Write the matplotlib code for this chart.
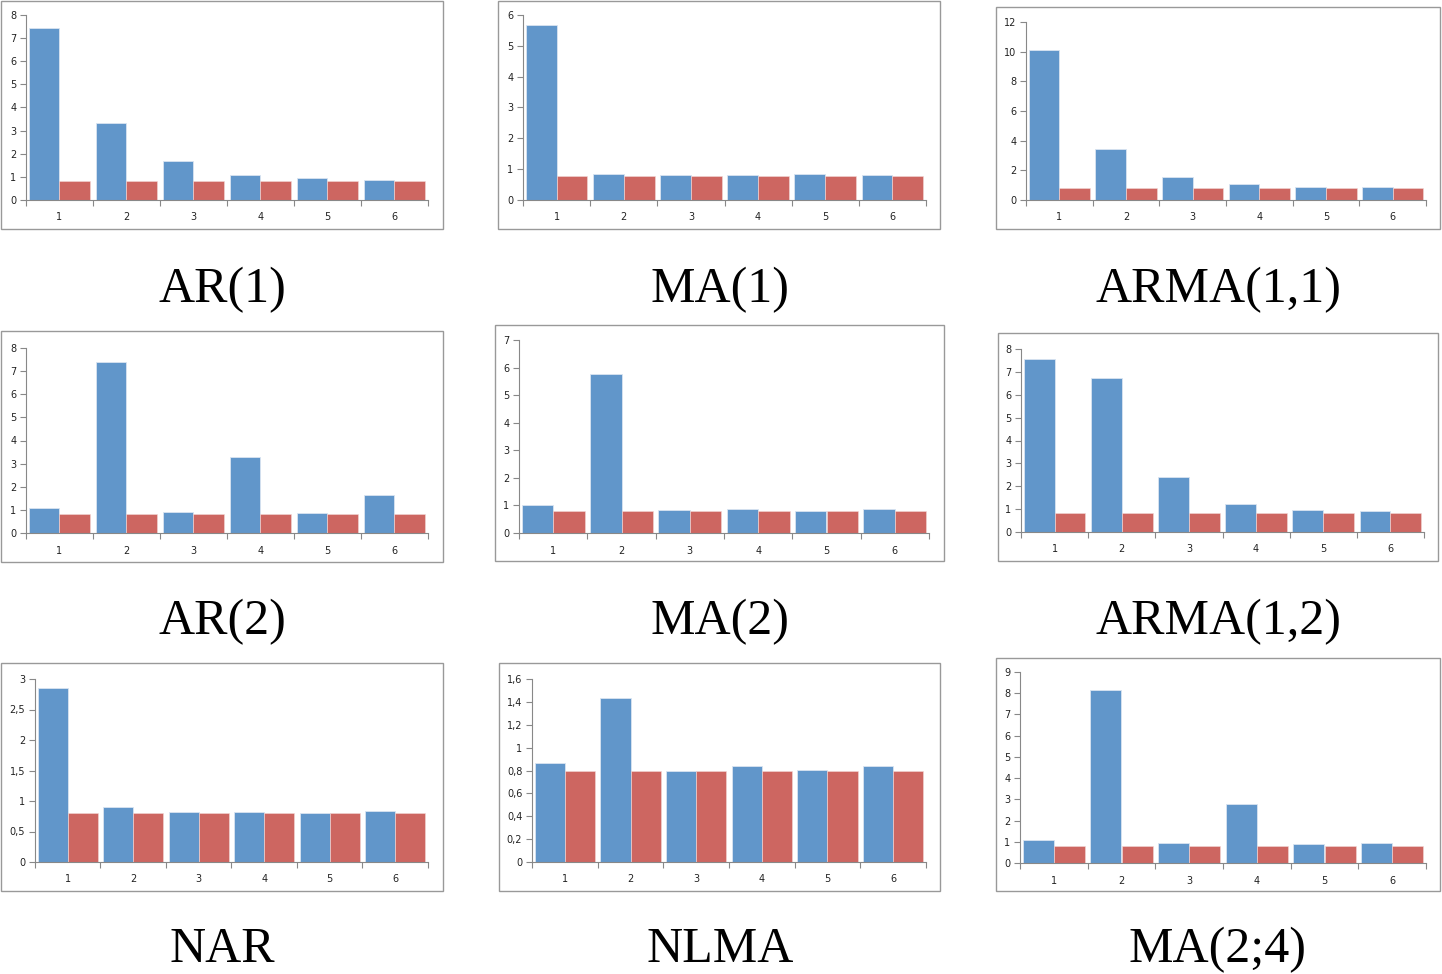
import matplotlib
matplotlib.use("Agg")
import matplotlib.pyplot as plt
from matplotlib.patches import Rectangle
from matplotlib.ticker import FuncFormatter, FixedLocator, MultipleLocator

# data
lags = [1, 2, 3, 4, 5, 6]
titles = ["AR(1)", "MA(1)", "ARMA(1,1)",
          "AR(2)", "MA(2)", "ARMA(1,2)",
          "NAR", "NLMA", "MA(2;4)"]

ar1 = [7.45, 3.35, 1.70, 1.10, 0.96, 0.86]
ma1 = [5.68, 0.85, 0.82, 0.82, 0.85, 0.82]
arma11 = [10.14, 3.41, 1.53, 1.05, 0.90, 0.90]
ar2 = [1.10, 7.39, 0.91, 3.30, 0.85, 1.65]
ma2 = [1.00, 5.76, 0.83, 0.87, 0.78, 0.87]
arma12 = [7.55, 6.75, 2.40, 1.21, 0.96, 0.90]
nar = [2.85, 0.90, 0.82, 0.82, 0.80, 0.84]
nlma = [0.864, 1.437, 0.794, 0.835, 0.806, 0.835]
ma24 = [1.10, 8.17, 0.92, 2.79, 0.88, 0.92]

red_level = [0.80, 0.79, 0.81, 0.81, 0.78, 0.82, 0.80, 0.794, 0.81]

ymax = [8, 6, 12, 8, 7, 8, 3, 1.6, 9]
ystep = [1, 1, 2, 1, 1, 1, 0.5, 0.2, 1]

blue_series = [ar1, ma1, arma11, ar2, ma2, arma12, nar, nlma, ma24]

# layout in pixels: frame box and axes box (x0, y0, x1, y1), top-left origin
W, H = 1442, 974
frames = [(1, 1, 443, 229), (498, 1, 940, 229), (996, 7, 1440, 229),
          (1, 331, 443, 562), (495, 325, 944, 561), (998, 333, 1438, 561),
          (1, 663, 443, 891), (499, 663, 940, 891), (996, 658, 1440, 891)]
axboxes = [(26, 15, 428, 200), (523, 15, 926, 200), (1026, 22, 1426, 200),
           (26, 348, 428, 533), (519, 340, 929, 533), (1021, 349, 1424, 532),
           (35, 679, 428, 862), (532, 679, 926, 862), (1020, 672, 1426, 863)]
title_y = [290, 290, 290, 622, 622, 622, 950, 950, 950]
title_x = [222, 720, 1218]

blue = "#6196CA"
red = "#CD6661"
axis_gray = "#888888"

fig = plt.figure(figsize=(W / 100, H / 100), dpi=100)


def comma(v, pos):
    s = "%g" % v
    return s.replace(".", ",")


for i in range(9):
    fx0, fy0, fx1, fy1 = frames[i]
    fig.add_artist(Rectangle((fx0 / W, 1 - fy1 / H), (fx1 - fx0) / W, (fy1 - fy0) / H,
                             transform=fig.transFigure, fill=False,
                             edgecolor="#999999", linewidth=1.0))

    x0, y0, x1, y1 = axboxes[i]
    ax = fig.add_axes([x0 / W, 1 - y1 / H, (x1 - x0) / W, (y1 - y0) / H])
    w = 0.46
    xs = lags
    ax.bar([x - w / 2 for x in xs], blue_series[i], width=w, color=blue,
           edgecolor="#d9e4f1", linewidth=0.6)
    ax.bar([x + w / 2 for x in xs], [red_level[i]] * 6, width=w, color=red,
           edgecolor="#f2d9d8", linewidth=0.4)

    ax.set_xlim(0.5, 6.5)
    ax.set_ylim(0, ymax[i])
    ax.yaxis.set_major_locator(MultipleLocator(ystep[i]))
    ax.yaxis.set_major_formatter(FuncFormatter(comma))

    # category labels at centres, tick marks at boundaries
    ax.set_xticks(xs)
    ax.set_xticklabels([str(x) for x in xs])
    ax.xaxis.set_minor_locator(FixedLocator([0.5 + k for k in range(7)]))
    ax.tick_params(axis="x", which="major", length=0, pad=9,
                   labelsize=7, labelcolor="#222222")
    ax.tick_params(axis="x", which="minor", length=4, width=0.8,
                   color=axis_gray, direction="out")
    ax.tick_params(axis="y", length=4, width=0.8, color=axis_gray,
                   direction="out", labelsize=7, labelcolor="#222222", pad=3)

    for side in ["top", "right"]:
        ax.spines[side].set_visible(False)
    for side in ["left", "bottom"]:
        ax.spines[side].set_color(axis_gray)
        ax.spines[side].set_linewidth(0.8)
    ax.set_facecolor("white")

    fig.text(title_x[i % 3] / W, 1 - title_y[i] / H, titles[i],
             ha="center", va="center", fontsize=36,
             family="Liberation Serif", color="black")

fig.savefig("out.png", dpi=100, facecolor="white")
